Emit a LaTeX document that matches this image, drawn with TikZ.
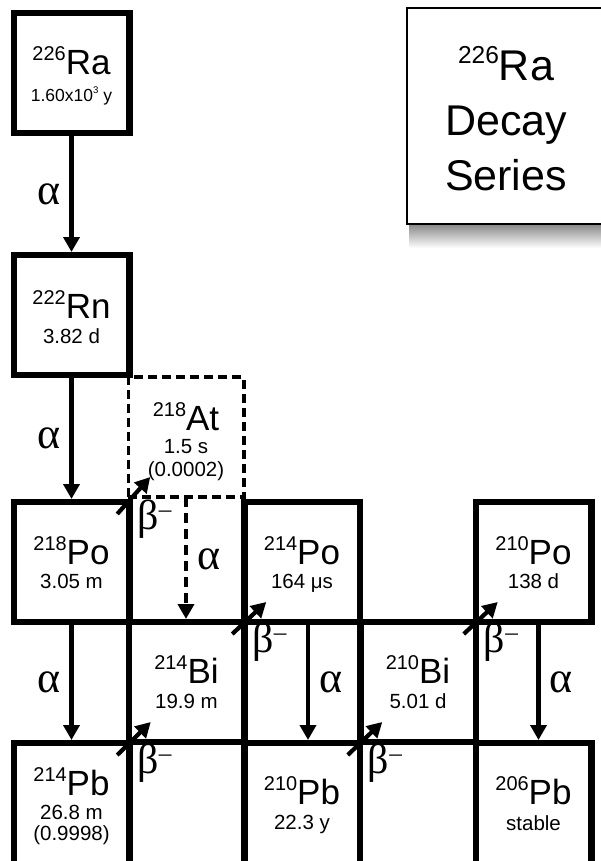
\documentclass[tikz,border=0pt]{standalone}
\usepackage{fontspec}
\setmainfont{Liberation Sans}
\newfontfamily\grk{Liberation Serif}
\usepackage{graphicx}
\usetikzlibrary{calc,arrows.meta}
\newcommand\iso[2]{\raisebox{.4em}{\scalebox{.57}{#1}}#2}
\newcommand\bminus{β\raisebox{.28em}{\scalebox{.6}{–}}}
\newcommand\pow[1]{\raisebox{.5em}{\scalebox{.55}{#1}}}
\tikzset{
    box/.style={draw, line width=6.5pt, minimum width=115.5pt, minimum height=120pt,
        inner sep=0pt, outer sep=0pt},
    openbox/.style={box, minimum height=130pt},
    dbox/.style={box, line width=3.5pt, dash pattern=on 9pt off 5pt},
    sym/.style={anchor=base, inner sep=0pt, font=\fontsize{35}{35}\selectfont},
    half/.style={anchor=base, inner sep=0pt, font=\fontsize{20.5}{21}\selectfont},
    decay/.style={line width=4.2pt, -{Triangle[width=16pt,length=15pt]}},
    alab/.style={inner sep=0pt, font=\grk\fontsize{44}{44}\selectfont},
    blab/.style={anchor=base west, inner sep=0pt, font=\grk\fontsize{42}{42}\selectfont}
}

\begin{document}
\begin{tikzpicture}[x=1pt,y=-1pt]

% --- page ---
    \useasboundingbox (0,0) rectangle (601,861);
    \clip (0,0) rectangle (601,861);

% title card (runs off the right edge)
    \shade[top color=black!45, bottom color=white] (409,225) rectangle (601,248);
    \node[draw, line width=1.2pt, fill=white, minimum width=210pt, minimum height=216pt,
        inner sep=0pt] (card) at (512,116) {};
    \node[align=center, font=\fontsize{43}{55}\selectfont] (card-txt) at (506,119)
        {\iso{226}{Ra}\\Decay\\Series};

% nuclide boxes
    \node[box] (ra226) at (71.5,73) {};
    \node[box] (rn222) at (71.5,315) {};
    \node[dbox] (at218) at (186,437) {};
    \node[box] (po218) at (71.5,562) {};
    \node[box] (po214) at (302,562) {};
    \node[box] (po210) at (533.5,562) {};
    \node[box] (bi214) at (186.5,682) {};
    \node[box] (bi210) at (418,682) {};
    \node[openbox] (pb214) at (71.5,808) {};
    \node[openbox] (pb210) at (302,808) {};
    \node[openbox] (pb206) at (533.5,808) {};

% names and half-lives
    \node[sym]  (ra226-s) at ($(ra226)+(0,2)$)  {\iso{226}{Ra}};
    \node[half, font=\fontsize{17.5}{21}\selectfont] (ra226-h) at ($(ra226)+(0,29)$) {1.60x10\pow{3} y};
    \node[sym]  (rn222-s) at ($(rn222)+(0,3)$)  {\iso{222}{Rn}};
    \node[half] (rn222-h) at ($(rn222)+(0,28)$) {3.82 d};
    \node[sym]  (at218-s) at ($(at218)+(0,-7)$) {\iso{218}{At}};
    \node[half] (at218-h) at ($(at218)+(0,16)$) {1.5 s};
    \node[half] (at218-b) at ($(at218)+(0,39)$) {(0.0002)};
    \node[sym]  (po218-s) at ($(po218)+(0,2)$)  {\iso{218}{Po}};
    \node[half] (po218-h) at ($(po218)+(0,26)$) {3.05 m};
    \node[sym]  (po214-s) at ($(po214)+(0,2)$)  {\iso{214}{Po}};
    \node[half] (po214-h) at ($(po214)+(0,26)$) {164 μs};
    \node[sym]  (po210-s) at ($(po210)+(0,2)$)  {\iso{210}{Po}};
    \node[half] (po210-h) at ($(po210)+(0,26)$) {138 d};
    \node[sym]  (bi214-s) at ($(bi214)+(0,1)$)  {\iso{214}{Bi}};
    \node[half] (bi214-h) at ($(bi214)+(0,26)$) {19.9 m};
    \node[sym]  (bi210-s) at ($(bi210)+(0,1)$)  {\iso{210}{Bi}};
    \node[half] (bi210-h) at ($(bi210)+(0,26)$) {5.01 d};
    \node[sym]  (pb214-s) at ($(pb214)+(0,-13)$) {\iso{214}{Pb}};
    \node[half] (pb214-h) at ($(pb214)+(0,11)$)  {26.8 m};
    \node[half] (pb214-b) at ($(pb214)+(0,32)$)  {(0.9998)};
    \node[sym]  (pb210-s) at ($(pb210)+(0,-4)$)  {\iso{210}{Pb}};
    \node[half] (pb210-h) at ($(pb210)+(0,21)$)  {22.3 y};
    \node[sym]  (pb206-s) at ($(pb206)+(0,-4)$)  {\iso{206}{Pb}};
    \node[half] (pb206-h) at ($(pb206)+(0,22)$)  {stable};

% alpha decays (straight down)
    \draw[decay, shorten >=3pt] (ra226) -- (rn222)
        node[alab, midway, left=9pt] (a1) {α};
    \draw[decay, shorten >=3pt] (rn222) -- (po218)
        node[alab, midway, left=9pt] (a2) {α};
    \draw[decay, shorten >=3pt] (po218) -- (pb214)
        node[alab, midway, left=9pt] (a3) {α};
    \draw[decay, shorten >=3pt, dash pattern=on 10pt off 6pt] (at218.south) -- (at218.south |- bi214.north)
        node[alab, midway, right=9pt] (a4) {α};
    \draw[decay, shorten >=3pt] ([xshift=6pt]po214.south) -- ([xshift=6pt]pb210.north)
        node[alab, midway, right=9pt] (a5) {α};
    \draw[decay, shorten >=3pt] ([xshift=5pt]po210.south) -- ([xshift=5pt]pb206.north)
        node[alab, midway, right=9pt] (a6) {α};

% beta decays (across the corners)
    \draw[decay] ([shift={(-12,12)}]po218.north east) -- ([shift={(22,-20)}]at218.south west);
    \draw[decay] ([shift={(-12,12)}]bi214.north east) -- ([shift={(22,-20)}]po214.south west);
    \draw[decay] ([shift={(-12,12)}]pb214.north east) -- ([shift={(22,-20)}]bi214.south west);
    \draw[decay] ([shift={(-12,12)}]pb210.north east) -- ([shift={(22,-20)}]bi210.south west);
    \draw[decay] ([shift={(-12,12)}]bi210.north east) -- ([shift={(22,-20)}]po210.south west);

    \node[blab] (b1) at ($(po218.north east)+(8,27)$) {\bminus};
    \node[blab] (b2) at ($(bi214.north east)+(8,30)$) {\bminus};
    \node[blab] (b3) at ($(pb214.north east)+(8,30)$) {\bminus};
    \node[blab] (b4) at ($(pb210.north east)+(8,30)$) {\bminus};
    \node[blab] (b5) at ($(bi210.north east)+(8,30)$) {\bminus};

\end{tikzpicture}
\end{document}
